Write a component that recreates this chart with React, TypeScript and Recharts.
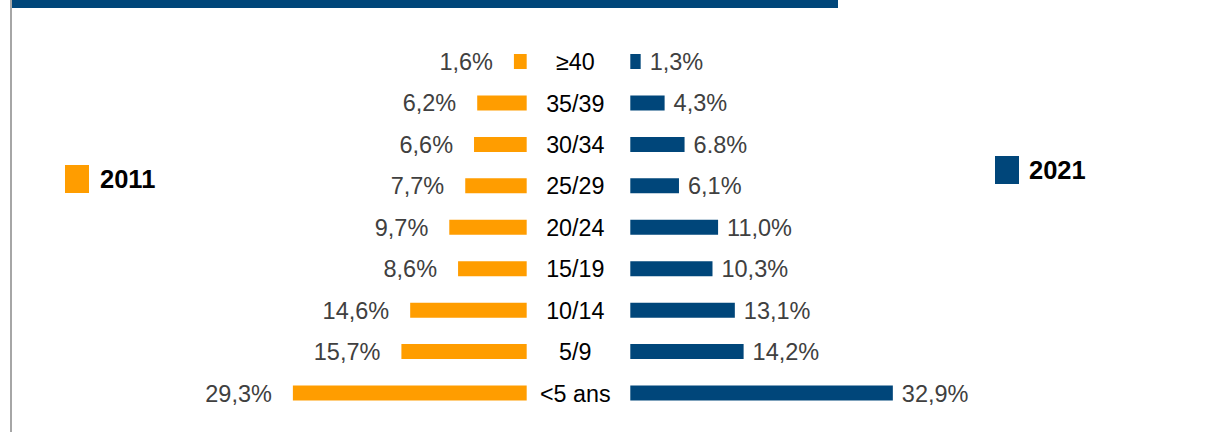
import { Bar, BarChart, LabelList, XAxis, YAxis } from "recharts";

const ageGroups = ["≥40", "35/39", "30/34", "25/29", "20/24", "15/19", "10/14", "5/9", "<5 ans"];
const share2011 = [1.6, 6.2, 6.6, 7.7, 9.7, 8.6, 14.6, 15.7, 29.3];
const share2021 = [1.3, 4.3, 6.8, 6.1, 11.0, 10.3, 13.1, 14.2, 32.9];
const labels2011 = ["1,6%", "6,2%", "6,6%", "7,7%", "9,7%", "8,6%", "14,6%", "15,7%", "29,3%"];
const labels2021 = ["1,3%", "4,3%", "6.8%", "6,1%", "11,0%", "10,3%", "13,1%", "14,2%", "32,9%"];

const data = ageGroups.map((age, i) => ({
  age,
  y2011: share2011[i],
  y2021: share2021[i],
  l2011: labels2011[i],
  l2021: labels2021[i],
}));

const ORANGE = "#FF9D00";
const BLUE = "#00467A";
const FONT = "'Liberation Sans', Arial, sans-serif";

const PLOT_W = 319.2;
const PLOT_H = 373;
const TOP = 41;
const CAT_W = 103.3;

const LeftValue = (props: any) => {
  const { x, y, width, height, value } = props;
  const left = Math.min(x, x + width);
  return (
    <text x={left - 21} y={y + height / 2} dy="0.36em" textAnchor="end" fill="#404040" fontSize={23.5} fontFamily={FONT}>
      {value}
    </text>
  );
};

const RightValue = (props: any) => {
  const { x, y, width, height, value } = props;
  const right = Math.max(x, x + width);
  return (
    <text x={right + 9} y={y + height / 2} dy="0.36em" textAnchor="start" fill="#404040" fontSize={23.5} fontFamily={FONT}>
      {value}
    </text>
  );
};

const CategoryTick = (props: any) => {
  const { y, payload } = props;
  return (
    <text x={48.3} y={y} dy="0.36em" textAnchor="middle" fill="#000" fontSize={23.3} fontFamily={FONT}>
      {payload.value}
    </text>
  );
};

export default function App() {
  return (
    <div style={{ position: "absolute", left: 0, top: 0, width: 1206, height: 432, background: "#fff", overflow: "hidden" }}>
      <div style={{ position: "absolute", left: 10, top: 0, width: 2, height: 432, background: "#A6A6A6" }} />
      <div style={{ position: "absolute", left: 12, top: 0, width: 826, height: 8, background: BLUE }} />

      <div style={{ position: "absolute", left: 120, top: TOP }}>
        <BarChart
          width={87.5 + PLOT_W}
          height={PLOT_H}
          data={data}
          layout="vertical"
          margin={{ top: 0, right: 0, bottom: 0, left: 87.5 }}
        >
          <XAxis type="number" domain={[0, 40]} reversed hide />
          <YAxis type="category" dataKey="age" hide />
          <Bar dataKey="y2011" fill={ORANGE} barSize={15} isAnimationActive={false}>
            <LabelList dataKey="l2011" content={LeftValue} />
          </Bar>
        </BarChart>
      </div>

      <div style={{ position: "absolute", left: 526.7, top: TOP }}>
        <BarChart
          width={CAT_W + PLOT_W + 100}
          height={PLOT_H}
          data={data}
          layout="vertical"
          margin={{ top: 0, right: 100, bottom: 0, left: 0 }}
        >
          <XAxis type="number" domain={[0, 40]} hide />
          <YAxis
            type="category"
            dataKey="age"
            width={CAT_W}
            axisLine={false}
            tickLine={false}
            tick={CategoryTick}
            interval={0}
          />
          <Bar dataKey="y2021" fill={BLUE} barSize={15} isAnimationActive={false}>
            <LabelList dataKey="l2021" content={RightValue} />
          </Bar>
        </BarChart>
      </div>

      <svg style={{ position: "absolute", left: 0, top: 0 }} width={1206} height={432}>
        <rect x={65} y={165} width={24} height={28} fill={ORANGE} />
        <text x={100} y={188.3} fontSize={25.5} fontWeight="bold" fontFamily={FONT} fill="#000">
          2011
        </text>
        <rect x={995} y={156} width={24} height={28} fill={BLUE} />
        <text x={1029} y={179.3} fontSize={25.5} fontWeight="bold" fontFamily={FONT} fill="#000">
          2021
        </text>
      </svg>
    </div>
  );
}
